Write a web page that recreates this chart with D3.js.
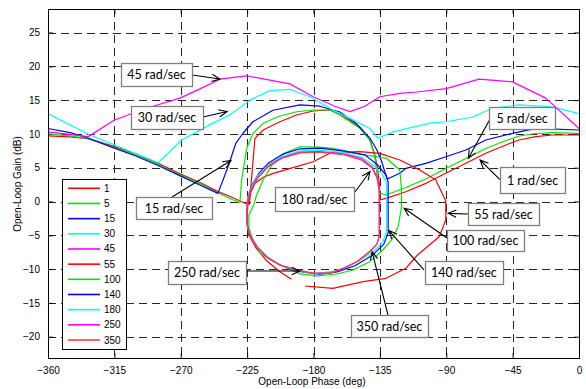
<!DOCTYPE html>
<html>
<head>
<meta charset="utf-8">
<script src="https://cdn.jsdelivr.net/npm/d3@7"></script>
<style>
  html, body { margin: 0; padding: 0; background: #fff; }
  svg { display: block; }
  .tick-label, .axis-title, .legend-text { font-family: "Liberation Sans", Arial, sans-serif; font-size: 10px; fill: #000; }
  .note-text { font-family: Lato, "Open Sans", sans-serif; font-size: 12.5px; fill: #000; }
</style>
</head>
<body>
<svg id="chart" width="586" height="389"></svg>
<script>
// Nichols-plane templates: open-loop phase (deg) vs gain (dB) at each frequency
const frequencies = [1, 5, 15, 30, 45, 55, 100, 140, 180, 250, 350];
const seriesColors = ["#ff0000", "#00e600", "#0000ff", "#00ffff", "#ff00ff",
                      "#ff0000", "#00e600", "#0000ff", "#00ffff", "#ff00ff", "#ff3c3c"];

const xTicks = [-360, -315, -270, -225, -180, -135, -90, -45, 0];
const yTicks = [-20, -15, -10, -5, 0, 5, 10, 15, 20, 25];

const template1 = [[-360,9.7],[-345,9.55],[-333,9.3],[-315,8.15],[-300,7.0],[-285,5.6],[-270,4.05],[-257,2.8],
  [-245,1.5],[-235,0.6],[-226,-0.3],[-223.5,-0.4],[-219.7,9.35],[-214.1,10.58],[-202.8,11.8],[-191.5,12.8],
  [-180.2,13.39],[-168.9,13.54],[-162.1,12.94],[-148.6,11.0],[-141.8,9.1],[-138.4,6.9],[-136.4,4.66],
  [-135.3,2.44],[-135,0.22],[-130.9,0.47],[-117.4,1.45],[-103.8,2.69],[-90.3,4.17],[-76.7,5.65],[-63.2,7.13],
  [-49.6,8.36],[-40.6,9.1],[-29.3,9.59],[-18,9.84],[0,9.84]];

const template5 = [[-360,10.0],[-345,9.7],[-333,9.3],[-315,8.0],[-300,6.85],[-285,5.45],[-270,3.9],[-257,2.65],
  [-245,1.3],[-235,0.3],[-229.9,-0.18],[-228.7,3.18],[-225.3,7.87],[-220.9,10.09],[-214.1,11.57],[-202.8,12.65],
  [-191.5,13.28],[-180.2,13.54],[-168.9,13.54],[-162.1,12.8],[-148.6,10.83],[-141.8,9.1],[-138.4,6.63],
  [-136.8,3.67],[-135.3,1.26],[-130.9,0.96],[-117.4,2.07],[-103.8,3.33],[-90.3,4.88],[-76.7,6.36],[-63.2,7.84],
  [-49.6,9.02],[-40.6,9.69],[-29.3,10.06],[-18,10.2],[0,10.09]];

const template15 = [[-360,10.8],[-345,10.2],[-333,9.4],[-315,7.9],[-300,6.7],[-285,5.3],[-270,3.75],[-257,2.45],
  [-244.8,1.2],[-238,5.1],[-232.6,8.65],[-227.8,10.1],[-221.1,11.8],[-207.5,13.5],[-189.2,14.3],[-175.7,14.1],
  [-162.1,13.24],[-150.6,11.46],[-141.8,9.39],[-137,7.62],[-133.7,5.84],[-131.6,4.36],[-129.9,3.33],
  [-121.5,4.17],[-117.4,4.9],[-103.8,5.65],[-90.3,6.63],[-76.7,7.62],[-63.2,9.1],[-45.1,10.09],[-29.3,10.83],[0,10.58]];

const template30 = [[-360,13.0],[-331.5,9.84],[-285.3,5.74],[-269.4,9.1],[-256.6,10.6],[-248.2,11.6],[-236.7,12.8],
  [-223.1,15.0],[-209.6,16.4],[-196,16.6],[-182.4,15.5],[-166.6,13.5],[-155.3,12.3],[-141.8,10.8],[-136.2,9.35],
  [-126,10.3],[-101.1,11.6],[-90,11.8],[-72,12.5],[-58.6,13.8],[-40.6,14.3],[-18,14.0],[0,13.0]];

const template45 = [[-360,10.3],[-332.7,9.6],[-314.6,12.1],[-293.1,13.8],[-270.5,15.3],[-256.6,16.7],[-243.4,18.1],
  [-225.3,18.6],[-196,17.4],[-180.2,15.5],[-165.5,14.1],[-155.3,13.3],[-145.2,14.1],[-135,15.5],[-121.5,16.0],
  [-110,16.2],[-90,16.7],[-67.7,18.1],[-45,17.7],[-22.5,15.3],[0,10.8]];

const template55 = [[-194.9,-11.5],[-202.8,-10.38],[-212.3,-8.65],[-219,-6.88],[-223.8,-4.96],[-225.1,-3.03],
  [-224.5,-0.52],[-222.4,1.41],[-219.7,2.69],[-213.6,3.62],[-207.3,4.17],[-191.5,5.15],[-180.2,5.89],
  [-168.9,7.13],[-158.7,7.32],[-148.6,7.37],[-135,7.13],[-121.5,6.14],[-107.9,4.66],[-97.1,3.18],[-90.3,0.07],
  [-90.3,-2.74],[-94.8,-5.21],[-109.5,-7.91],[-117.4,-9.88],[-130.9,-11.36],[-146.3,-11.86],[-166.9,-12.84],
  [-185.8,-12.5]];

const template100 = [[-220.5,-0.5],[-218.6,0.96],[-214.1,3.18],[-208.2,5.4],[-199.4,7.17],[-189.2,8.1],[-175.7,8.05],
  [-166.6,7.87],[-148.6,7.0],[-130.5,6.39],[-121.5,4.66],[-120.3,1.7],[-120.3,-0.77],[-122.6,-3.73],[-127.1,-5.7],
  [-133,-7.17],[-141.8,-8.9],[-153.3,-10.13],[-164.3,-10.72],[-177,-11.0],[-189.2,-10.7],[-198,-9.84],
  [-208.2,-8.75],[-216.3,-7.6],[-221.1,-5.7],[-223.8,-3.9],[-223.8,-2.0],[-220.5,-0.5]];

const template140 = [[-224.6,0.6],[-221.8,2.4],[-217,4.2],[-210.5,5.7],[-201,7.0],[-189.2,7.8],[-175.7,7.9],
  [-160,7.5],[-145.2,6.9],[-136.4,5.4],[-130.9,3.9],[-129.4,2.9],[-129.4,-4.66],[-132.3,-6.3],[-139.8,-7.9],
  [-151.9,-9.5],[-164.1,-10.4],[-175.7,-10.75],[-191.3,-10.3],[-202.8,-9.4],[-211.6,-8.2],[-218.3,-6.7],
  [-223.1,-5.0],[-225.2,-3.2],[-225.2,-1.5],[-224.6,0.6]];

const template180 = [[-224.8,0.5],[-222,2.2],[-217.5,3.9],[-210.9,5.4],[-201.4,6.7],[-189.2,7.5],[-175.7,7.6],
  [-158.7,7.2],[-147.2,6.5],[-140.4,5.5],[-134.3,4.3],[-130.5,2.9],[-130.5,-4.5],[-133,-6.0],[-139.8,-7.5],
  [-151.9,-9.1],[-165.5,-10.3],[-180.4,-10.7],[-191.3,-10.2],[-202.8,-9.4],[-211.6,-8.2],[-218.3,-6.7],
  [-223.1,-5.0],[-225.2,-3.2],[-225.2,-1.5],[-224.8,0.5]];

const template250 = [[-135.3,2.0],[-136.8,3.6],[-140.2,5.1],[-147.2,6.3],[-158.7,7.0],[-175.7,7.4],[-189.2,7.3],
  [-201.4,6.5],[-210.9,5.2],[-217.7,3.6],[-222.5,1.8],[-224.5,0.2],[-225.2,-1.55],[-225.2,-3.2],[-223.1,-5.0],
  [-218.3,-6.7],[-211.6,-8.2],[-202.8,-9.4],[-191.3,-10.15],[-180.4,-10.65],[-168.9,-10.6],[-158.7,-9.85],
  [-149.9,-8.8],[-141.8,-7.4],[-137,-6.3],[-135.3,-5.1],[-135.3,2.0]];

const template350 = [[-135.5,1.7],[-137,3.5],[-140.4,5.0],[-147.2,6.1],[-158.7,6.9],[-175.7,7.3],[-189.2,7.2],
  [-201.4,6.4],[-210.9,5.1],[-217.7,3.5],[-222.5,1.7],[-224.5,0.2],[-225.2,-1.55],[-225.2,-3.2],[-223.1,-5.0],
  [-218.3,-6.7],[-211.6,-8.2],[-202.8,-9.4],[-191.3,-10.1],[-180.4,-10.6],[-168.9,-10.6],[-158.7,-9.8],
  [-149.9,-8.8],[-141.8,-7.4],[-137,-6.3],[-135.5,-5.1],[-135.5,1.7]];

const templates = [template1, template5, template15, template30, template45, template55,
                   template100, template140, template180, template250, template350];

// Callout labels: text, box centre, arrow tail and arrow tip (phase, gain)
const noteText = ["45 rad/sec", "30 rad/sec", "15 rad/sec", "180 rad/sec", "250 rad/sec", "350 rad/sec",
                  "140 rad/sec", "100 rad/sec", "55 rad/sec", "5 rad/sec", "1 rad/sec"];
const noteCenter = [[-286.4,18.79],[-279.3,12.43],[-274.6,-0.96],[-179.3,0.37],[-252.2,-10.5],[-128.5,-18.42],
                    [-78.0,-10.5],[-63.4,-5.77],[-51.2,-1.85],[-38.6,12.35],[-31.5,3.18]];
const noteTail = [[-262.4,18.71],[-254.9,12.5],[-275.9,0.67],[-151.9,1.41],[-225.8,-10.28],[-129.5,-16.79],
                  [-105.1,-10.13],[-89.5,-5.4],[-75.3,-1.85],[-60.3,12.2],[-53.6,3.25]];
const noteTip = [[-243.4,18.12],[-238.6,13.31],[-235.9,6.07],[-141.7,4.44],[-189.2,-10.28],[-140.3,-7.4],
                 [-128.8,-4.29],[-118.6,-1.0],[-88.8,-1.75],[-75.0,6.39],[-67.1,6.14]];
const noteSize = [[71,23],[72,23],[76,22],[79,24],[78,23],[77,22],[78,23],[77,21],[71,22],[66,22],[65,26]];

const svg = d3.select("#chart");
const plot = { left: 48, right: 579, top: 9, bottom: 358 };

const x = d3.scaleLinear().domain([-360, 0]).range([plot.left, plot.right]);
const y = d3.scaleLinear().domain([-23.15, 28.48]).range([plot.bottom, plot.top]);

svg.append("rect").attr("x", 0).attr("y", 0).attr("width", 586).attr("height", 389).attr("fill", "#fff");

// dashed grid
const grid = svg.append("g").attr("stroke", "#262626").attr("stroke-width", 1).attr("stroke-dasharray", "8,5");
grid.selectAll("line.vx").data(xTicks.slice(1, -1)).join("line")
  .attr("x1", d => Math.round(x(d)) + 0.5).attr("x2", d => Math.round(x(d)) + 0.5)
  .attr("y1", plot.top).attr("y2", plot.bottom);
grid.selectAll("line.hy").data(yTicks).join("line")
  .attr("y1", d => Math.round(y(d)) + 0.5).attr("y2", d => Math.round(y(d)) + 0.5)
  .attr("x1", plot.left).attr("x2", plot.right);

// axes with inward ticks on all four sides
const bottomAxis = d3.axisBottom(x).tickValues(xTicks).tickSize(-5).tickPadding(9).tickFormat(d3.format("d"));
const leftAxis = d3.axisLeft(y).tickValues(yTicks).tickSize(-5).tickPadding(8).tickFormat(d3.format("d"));
const gb = svg.append("g").attr("transform", `translate(0,${plot.bottom})`).call(bottomAxis);
const gl = svg.append("g").attr("transform", `translate(${plot.left},0)`).call(leftAxis);
const gt = svg.append("g").attr("transform", `translate(0,${plot.top})`)
  .call(d3.axisTop(x).tickValues(xTicks).tickSize(-5).tickFormat(""));
const gr = svg.append("g").attr("transform", `translate(${plot.right},0)`)
  .call(d3.axisRight(y).tickValues(yTicks).tickSize(-5).tickFormat(""));
[gb, gl, gt, gr].forEach(g => {
  g.select(".domain").remove();
  g.selectAll(".tick line").attr("stroke", "#000");
  g.selectAll(".tick text").attr("class", "tick-label").attr("font-size", null).attr("font-family", null);
});

// curves
const line = d3.line().x(d => x(d[0])).y(d => y(d[1]));
svg.append("g").selectAll("path").data(templates).join("path")
  .attr("d", line).attr("fill", "none")
  .attr("stroke", (d, i) => seriesColors[i])
  .attr("stroke-width", 1.2).attr("stroke-linejoin", "round");

// frame
svg.append("rect").attr("x", plot.left + 0.5).attr("y", plot.top + 0.5)
  .attr("width", plot.right - plot.left).attr("height", plot.bottom - plot.top)
  .attr("fill", "none").attr("stroke", "#000").attr("stroke-width", 1);

// axis titles
svg.append("text").attr("class", "axis-title").attr("x", 312).attr("y", 385)
  .attr("text-anchor", "middle").text("Open-Loop Phase (deg)");
svg.append("text").attr("class", "axis-title")
  .attr("transform", "translate(21,184) rotate(-90)")
  .attr("text-anchor", "middle").text("Open-Loop Gain (dB)");

// callouts with arrows
const notes = svg.append("g");
noteText.forEach((t, i) => {
  const [tx, ty] = [x(noteTail[i][0]), y(noteTail[i][1])];
  const [hx, hy] = [x(noteTip[i][0]), y(noteTip[i][1])];
  const ang = Math.atan2(hy - ty, hx - tx);
  const L = 9, spread = 0.42;
  const a1 = [hx - L * Math.cos(ang - spread), hy - L * Math.sin(ang - spread)];
  const a2 = [hx - L * Math.cos(ang + spread), hy - L * Math.sin(ang + spread)];
  notes.append("path")
    .attr("d", `M${tx},${ty}L${hx},${hy}M${a1[0]},${a1[1]}L${hx},${hy}L${a2[0]},${a2[1]}`)
    .attr("fill", "none").attr("stroke", "#000").attr("stroke-width", 1.1);
  const cx = x(noteCenter[i][0]), cy = y(noteCenter[i][1]);
  const [w, h] = noteSize[i];
  notes.append("rect").attr("x", Math.round(cx - w / 2) + 0.5).attr("y", Math.round(cy - h / 2) + 0.5)
    .attr("width", w).attr("height", h).attr("fill", "#fff")
    .attr("stroke", "#808080").attr("stroke-width", 1.3);
  notes.append("text").attr("class", "note-text").attr("x", cx).attr("y", cy)
    .attr("dy", "0.36em").attr("text-anchor", "middle").text(t);
});

// legend
const lg = svg.append("g");
lg.append("rect").attr("x", 62.5).attr("y", 179.5).attr("width", 64).attr("height", 170)
  .attr("fill", "#fff").attr("stroke", "#000").attr("stroke-width", 1);
const row = lg.selectAll("g").data(frequencies).join("g")
  .attr("transform", (d, i) => `translate(0,${188.3 + i * 15.17})`);
row.append("line").attr("x1", 68).attr("x2", 100).attr("y1", 0).attr("y2", 0)
  .attr("stroke", (d, i) => seriesColors[i]).attr("stroke-width", 1.6);
row.append("text").attr("class", "legend-text").attr("x", 104).attr("y", 0).attr("dy", "0.35em").text(d => d);
</script>
</body>
</html>
